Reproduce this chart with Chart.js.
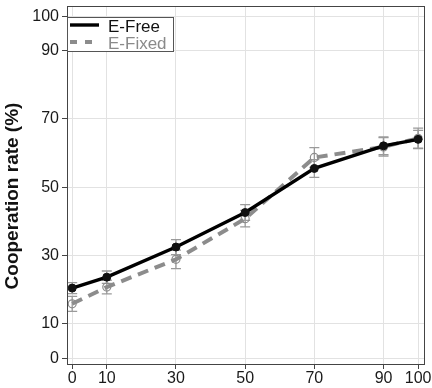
<!DOCTYPE html>
<html>
<head>
<meta charset="utf-8">
<script src="https://cdn.jsdelivr.net/npm/chart.js@4.4.1/dist/chart.umd.min.js"></script>
<style>
  html, body { margin: 0; padding: 0; background: #fff; }
  #wrap { width: 432px; height: 388px; position: relative; }
</style>
</head>
<body>
<div id="wrap"><canvas id="c" width="432" height="388"></canvas></div>
<script>
// Treatment levels (x) and tick positions
const levels = [0, 10, 30, 50, 70, 90, 100];
const xTicks = [0, 10, 30, 50, 70, 90, 100];
const yTicks = [0, 10, 30, 50, 70, 90, 100];

// Mean cooperation rate (%) and standard errors per series
const freeMean  = [20.5, 23.7, 32.5, 42.6, 55.5, 62.1, 64.0];
const freeErr   = [1.6, 1.8, 2.2, 2.3, 2.6, 2.6, 2.6];
const fixedMean = [15.9, 20.8, 28.9, 40.8, 58.7, 61.8, 64.3];
const fixedErr  = [2.2, 2.0, 2.7, 2.4, 2.9, 2.7, 3.0];

const seriesLabels = ['E-Free', 'E-Fixed'];

const FONT = '"Liberation Sans", Arial, sans-serif';

const toPoints = (ys) => levels.map((x, i) => ({ x: x, y: ys[i] }));

// Error bars, drawn underneath the lines
const errorBars = {
  id: 'errorBars',
  beforeDatasetsDraw(chart) {
    const ctx = chart.ctx, xs = chart.scales.x, ys = chart.scales.y;
    const sets = [[fixedMean, fixedErr], [freeMean, freeErr]];
    ctx.save();
    ctx.strokeStyle = '#9a9a9a';
    ctx.lineWidth = 1.3;
    sets.forEach(([m, e]) => {
      levels.forEach((lv, i) => {
        const px = xs.getPixelForValue(lv);
        const top = ys.getPixelForValue(m[i] + e[i]);
        const bot = ys.getPixelForValue(m[i] - e[i]);
        ctx.beginPath();
        ctx.moveTo(px, top); ctx.lineTo(px, bot);
        ctx.moveTo(px - 5, top); ctx.lineTo(px + 5, top);
        ctx.moveTo(px - 5, bot); ctx.lineTo(px + 5, bot);
        ctx.stroke();
      });
    });
    ctx.restore();
  }
};

// Frame, legend box and y-axis title
const decorations = {
  id: 'decorations',
  afterDraw(chart) {
    const ctx = chart.ctx, a = chart.chartArea;
    ctx.save();
    ctx.strokeStyle = '#444';
    ctx.lineWidth = 1;
    ctx.strokeRect(Math.round(a.left) + 0.5, Math.round(a.top) + 0.5,
                   Math.round(a.right - a.left), Math.round(a.bottom - a.top));

    // legend
    const lx = a.left, ly = a.top + 11, lw = 106, lh = 34;
    ctx.fillStyle = '#fff';
    ctx.fillRect(lx, ly, lw, lh);
    ctx.strokeStyle = '#555';
    ctx.strokeRect(lx + 0.5, ly + 0.5, lw, lh);
    const ds = chart.data.datasets;
    ctx.font = '17px ' + FONT;
    ctx.textBaseline = 'middle';
    ds.forEach((d, i) => {
      const yy = ly + 8 + i * 17;
      ctx.beginPath();
      ctx.strokeStyle = d.borderColor;
      ctx.lineWidth = d.borderWidth;
      ctx.setLineDash(i === 0 ? [] : [7, 8]);
      ctx.moveTo(lx + 3, yy); ctx.lineTo(lx + 32, yy);
      ctx.stroke();
      ctx.setLineDash([]);
      ctx.fillStyle = i === 0 ? '#111' : '#8a8a8a';
      ctx.fillText(d.label, lx + 41, yy + 2);
    });

    // y-axis title
    ctx.translate(13, 196);
    ctx.rotate(-Math.PI / 2);
    ctx.font = 'bold 19px ' + FONT;
    ctx.fillStyle = '#111';
    ctx.textAlign = 'center';
    ctx.textBaseline = 'middle';
    ctx.fillText('Cooperation rate (%)', 0, 0);
    ctx.restore();
  }
};

new Chart(document.getElementById('c'), {
  type: 'line',
  data: {
    datasets: [
      {
        label: seriesLabels[0],
        data: toPoints(freeMean),
        borderColor: '#000',
        backgroundColor: '#000',
        borderWidth: 3.4,
        pointRadius: 4,
        pointBackgroundColor: '#111',
        pointBorderColor: '#111',
        pointBorderWidth: 1,
        tension: 0
      },
      {
        label: seriesLabels[1],
        data: toPoints(fixedMean),
        borderColor: '#8c8c8c',
        backgroundColor: '#8c8c8c',
        borderWidth: 4,
        borderDash: [11, 7],
        pointRadius: 4,
        pointBackgroundColor: 'rgba(255,255,255,0)',
        pointBorderColor: '#8c8c8c',
        pointBorderWidth: 1.2,
        tension: 0
      }
    ]
  },
  options: {
    responsive: false,
    animation: false,
    layout: { padding: { top: 6, right: 8, left: 0, bottom: 0 } },
    plugins: { legend: { display: false }, tooltip: { enabled: false } },
    scales: {
      x: {
        type: 'linear',
        min: -1.5,
        max: 101.7,
        afterBuildTicks: (s) => { s.ticks = xTicks.map(v => ({ value: v })); },
        afterFit: (s) => { s.height = 24; s.paddingLeft = 0; s.paddingRight = 0; },
        grid: { color: '#e2e2e2', tickColor: '#444', tickLength: 5, lineWidth: 1 },
        border: { display: true, color: '#444' },
        ticks: { color: '#1a1a1a', font: { family: FONT, size: 16 }, padding: 0, maxRotation: 0, autoSkip: false }
      },
      y: {
        min: -1.7,
        max: 103,
        afterBuildTicks: (s) => { s.ticks = yTicks.map(v => ({ value: v })); },
        afterFit: (s) => { s.width = 67; s.paddingTop = 0; s.paddingBottom = 0; },
        grid: { color: '#e2e2e2', tickColor: '#444', tickLength: 5, lineWidth: 1 },
        border: { display: true, color: '#444' },
        ticks: { color: '#1a1a1a', font: { family: FONT, size: 16 }, padding: 3, autoSkip: false }
      }
    }
  },
  plugins: [errorBars, decorations]
});
</script>
</body>
</html>
